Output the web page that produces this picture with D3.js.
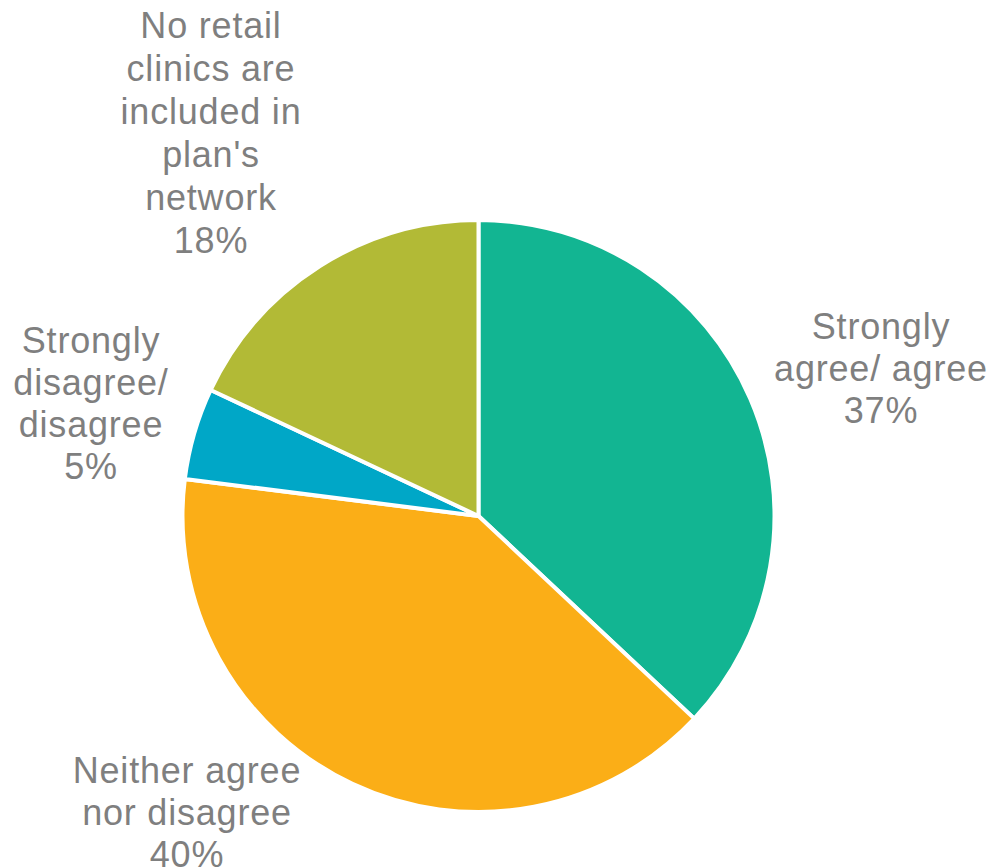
<!DOCTYPE html>
<html>
<head>
<meta charset="utf-8">
<script src="https://cdn.jsdelivr.net/npm/d3@7"></script>
<style>
  html, body { margin: 0; padding: 0; background: #fff; }
  svg { display: block; }
  text { font-family: "Liberation Sans", Arial, sans-serif; fill: #7f7f7f; }
</style>
</head>
<body>
<svg id="chart" width="991" height="867"></svg>
<script>
// Survey responses, clockwise from 12 o'clock
const categories = [
  "Strongly agree/ agree",
  "Neither agree nor disagree",
  "Strongly disagree/ disagree",
  "No retail clinics are included in plan's network"
];
const values = [37, 40, 5, 18];
const labelLines = [
  ["Strongly", "agree/ agree"],
  ["Neither agree", "nor disagree"],
  ["Strongly", "disagree/", "disagree"],
  ["No retail", "clinics are", "included in", "plan's", "network"]
];
const colors = ["#12b592", "#fbae17", "#00a7c7", "#b2ba36"];

// Label block placement: centre x and baseline of the first line
const labelLayout = [
  { x: 881, y: 339, lh: 42 },
  { x: 187, y: 783, lh: 42 },
  { x: 91,  y: 353, lh: 42 },
  { x: 211, y: 38,  lh: 43 }
];

const svg = d3.select("#chart");
const cx = 478.5, cy = 516, r = 296;

const pie = d3.pie().sort(null).value(d => d)(values);
const arc = d3.arc().innerRadius(0).outerRadius(r);

const g = svg.append("g").attr("transform", `translate(${cx},${cy})`);
g.selectAll("path")
  .data(pie)
  .join("path")
  .attr("d", arc)
  .attr("fill", (d, i) => colors[i])
  .attr("stroke", "#fff")
  .attr("stroke-width", 4)
  .attr("stroke-linejoin", "round");

const labels = svg.selectAll("text.lbl")
  .data(pie)
  .join("text")
  .attr("class", "lbl")
  .attr("text-anchor", "middle")
  .attr("font-size", 36)
  .attr("letter-spacing", 0.8);

labels.each(function (d, i) {
  const t = d3.select(this);
  const lay = labelLayout[i];
  const lines = labelLines[i].concat([d.data + "%"]);
  lines.forEach((s, k) => {
    t.append("tspan")
      .attr("x", lay.x)
      .attr("y", lay.y + k * lay.lh)
      .text(s);
  });
});
</script>
</body>
</html>
